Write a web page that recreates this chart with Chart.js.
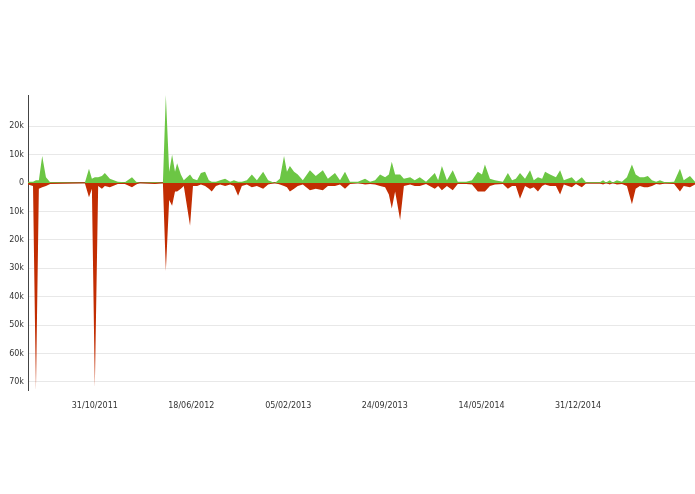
<!DOCTYPE html>
<html>
<head>
<meta charset="utf-8">
<script src="https://cdn.jsdelivr.net/npm/chart.js@4/dist/chart.umd.min.js"></script>
<style>
  html, body { margin: 0; padding: 0; background: #fff; }
  #wrap { width: 695px; height: 494px; }
</style>
</head>
<body>
<div id="wrap"><canvas id="chart"></canvas></div>
<script>
// days since START, green (in) and red (out) values in thousands
const START = "2011-05-24";
const dayOffsets = [0,12,19,26,34,43,53,136,146,153,160,168,177,184,196,215,232,249,259,268,304,323,330,338,345,352,357,366,373,388,395,405,414,424,433,440,450,460,472,484,493,503,512,524,536,548,563,575,591,603,613,620,627,637,646,658,675,689,706,718,735,747,759,771,790,807,819,831,843,855,864,871,879,891,900,915,926,938,953,974,982,991,1003,1017,1029,1049,1063,1077,1087,1094,1106,1118,1137,1149,1159,1168,1178,1190,1202,1211,1221,1231,1238,1250,1264,1274,1283,1302,1312,1326,1336,1369,1377,1384,1393,1400,1410,1422,1434,1446,1455,1465,1475,1484,1494,1504,1513,1525,1547,1561,1570,1585,1597];
const greenValues = [0.5,0.5,1,1,9.5,2,0.3,0,5,1.5,2,2,2.5,3.5,1.5,0.5,0.3,2,0.5,0,0.3,0,31,4,10,4,7,3,1,3,1.5,1,3.5,4,1,0.5,0.5,1,1.5,0.5,1,0.5,0.5,1,3,1,4,1,0,1.5,9.5,4,6,4,3,1,4.5,2.5,4.5,1.5,3.5,1,4,0.5,0.5,1.5,0.5,1,3,2,3,7.5,3,3,1.5,2,1,2,0.5,3.5,1,6,1,4.5,0.5,0.5,1,4,3,6.5,1.5,1,0.5,3.5,1,1.5,3.5,1.5,4.5,1,2,1.5,4,3,2,4.5,1,2,0.5,2,0.3,0.3,1,0.2,1,0.2,1,0.5,2,6.5,3,2,2,2.5,1,0.5,1,0.3,0.5,5,1,2.5,0.5];
const redValues = [-0.5,-1,-73,-2,-1.5,-1,-0.3,0,-5,-2,-72,-1,-2,-1,-1.5,-0.3,-0.3,-1.5,-0.5,0,-0.3,0,-31,-6,-8,-3,-3,-2,-1,-15,-1,-1,-0.5,-1,-2,-3,-1,-0.5,-1,-0.5,-1,-4.5,-1,-0.5,-1.5,-1,-2,-0.5,0,-0.5,-1,-1.5,-3,-2,-1,-0.5,-2.5,-2,-2.5,-1,-1,-0.5,-2,-0.3,0,-0.5,-0.3,-0.5,-1,-1.5,-4,-9,-3,-13,-1,-0.5,-1,-1,-0.3,-2,-1,-2.5,-1,-2.5,-0.3,-0.3,-0.5,-3,-3,-3,-1,-0.5,-0.3,-2,-1,-1,-5.5,-1,-2,-1.5,-3,-1,-0.5,-1,-1,-4,-0.5,-1.5,-0.3,-1.5,-0.2,-0.2,-0.5,0,-0.5,0,-0.5,-0.3,-1,-7.5,-2,-1,-1.5,-1.5,-1,-0.3,-0.5,-0.2,-0.3,-3,-1,-1.5,-0.5];
const tickLabels = ["31/10/2011","18/06/2012","05/02/2013","24/09/2013","14/05/2014","31/12/2014"];
const yTicks = [-70,-60,-50,-40,-30,-20,-10,0,10,20];

const DAY = 86400000;
const startMs = Date.parse(START);
const tickDays = tickLabels.map(s => {
  const [d, m, y] = s.split("/");
  return Math.round((Date.UTC(+y, +m - 1, +d) - startMs) / DAY);
});

const toPoints = vals => dayOffsets.map((d, i) => ({ x: d, y: vals[i] * 1000 }));

new Chart(document.getElementById("chart"), {
  type: "line",
  data: {
    datasets: [
      { data: toPoints(greenValues), fill: "origin", backgroundColor: "#6cc644", borderWidth: 0, pointRadius: 0, tension: 0 },
      { data: toPoints(redValues), fill: "origin", backgroundColor: "#c22d02", borderWidth: 0, pointRadius: 0, tension: 0 }
    ]
  },
  options: {
    responsive: true,
    maintainAspectRatio: false,
    animation: false,
    layout: { padding: { top: 95, right: 0, bottom: 80, left: 0 } },
    plugins: { legend: { display: false }, tooltip: { enabled: false } },
    scales: {
      x: {
        type: "linear",
        min: 0,
        max: 1597,
        grid: { display: false },
        border: { display: false },
        afterBuildTicks: axis => { axis.ticks = tickDays.map(v => ({ value: v })); },
        ticks: {
          autoSkip: false,
          maxRotation: 0,
          color: "#333",
          font: { family: "DejaVu Sans", size: 8 },
          callback: (v) => tickLabels[tickDays.indexOf(v)]
        }
      },
      y: {
        min: -73000,
        max: 31000,
        afterFit: axis => { axis.width = 28; },
        afterBuildTicks: axis => { axis.ticks = yTicks.map(v => ({ value: v * 1000 })); },
        grid: {
          color: ctx => ctx.tick && ctx.tick.value === 0 ? "#a24a1e" : "#e8e8e8",
          lineWidth: ctx => ctx.tick && ctx.tick.value === 0 ? 1.5 : 1,
          drawTicks: false
        },
        border: { color: "#444", width: 1 },
        ticks: {
          padding: 4,
          color: "#333",
          font: { family: "DejaVu Sans", size: 8 },
          callback: v => v === 0 ? "0" : Math.abs(v / 1000) + "k"
        }
      }
    }
  }
});
</script>
</body>
</html>
